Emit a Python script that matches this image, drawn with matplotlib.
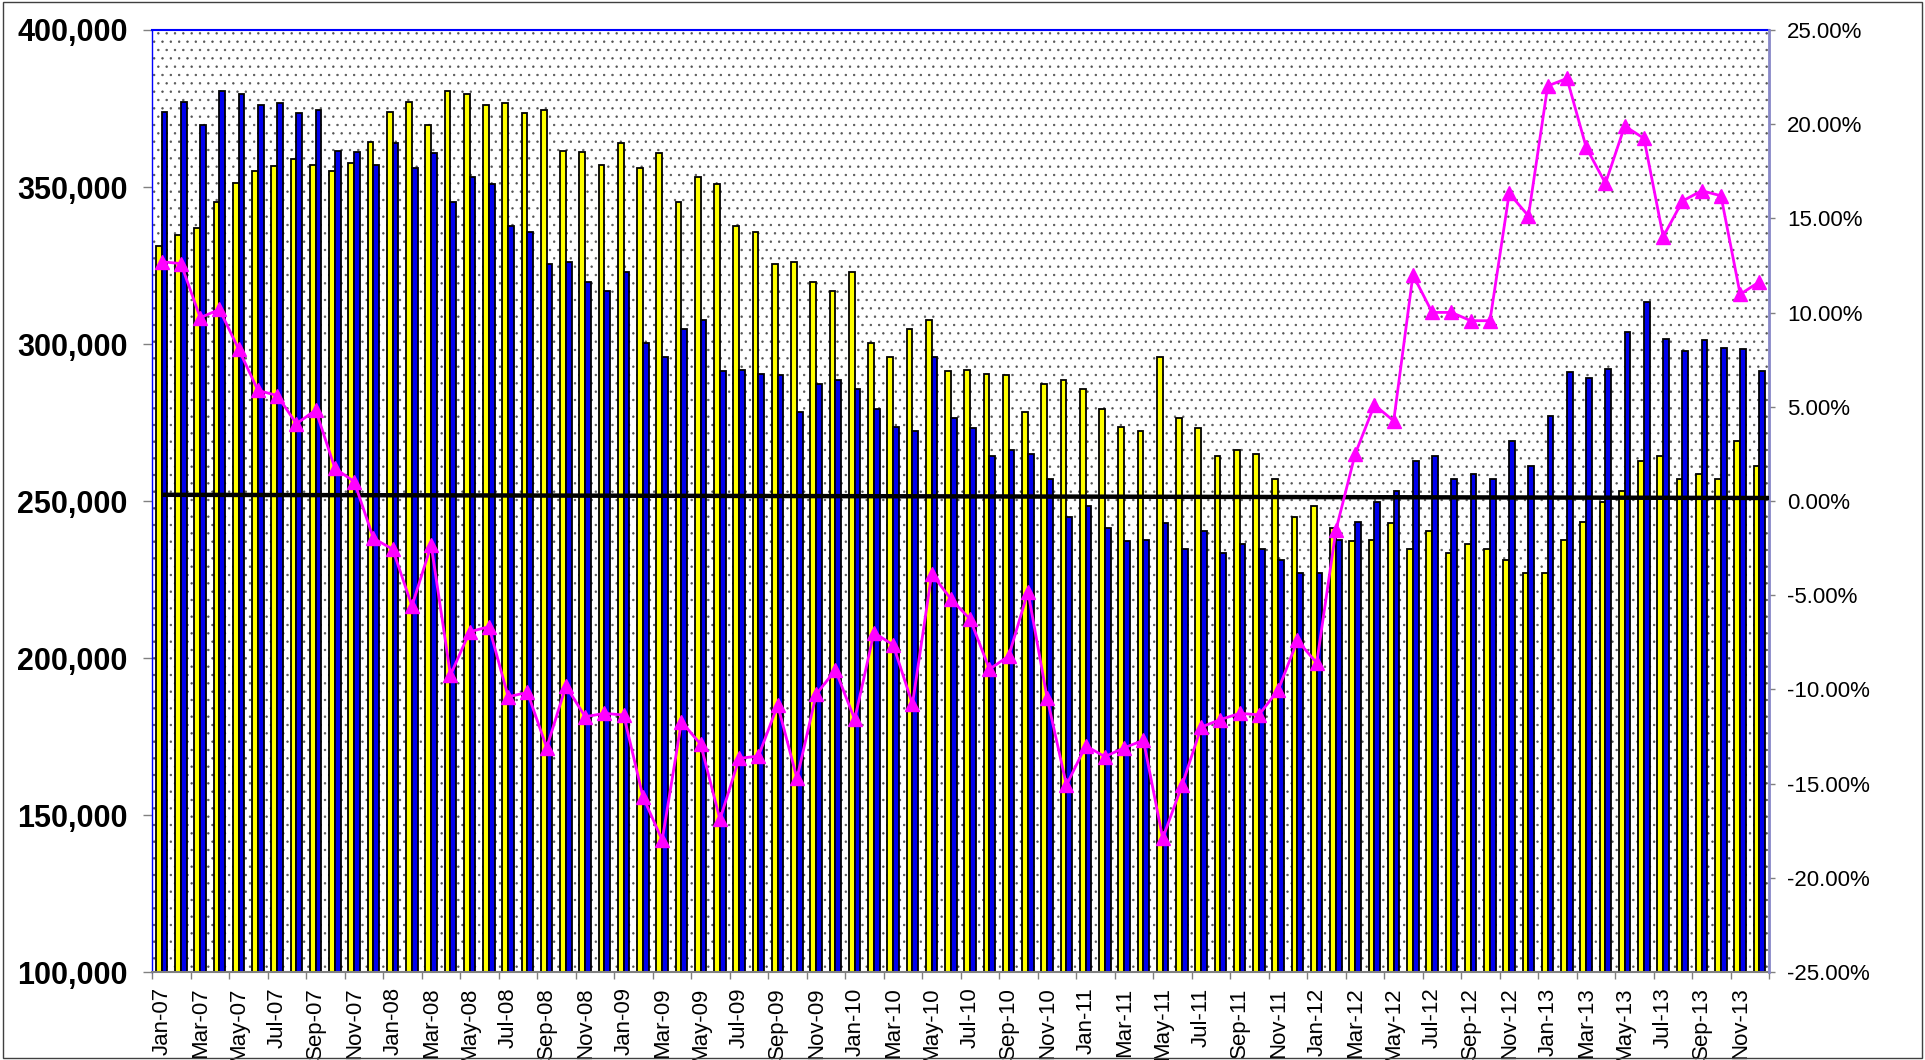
import matplotlib
matplotlib.use("Agg")
import matplotlib.pyplot as plt
import numpy as np
from matplotlib.patches import Rectangle
from matplotlib.ticker import FuncFormatter

plt.rcParams['font.family'] = ['Liberation Sans', 'DejaVu Sans']
plt.rcParams['hatch.linewidth'] = 0.5

# ---------------- data ----------------
month_names = ["Jan", "Feb", "Mar", "Apr", "May", "Jun",
               "Jul", "Aug", "Sep", "Oct", "Nov", "Dec"]
years = ["07", "08", "09", "10", "11", "12", "13"]
months = [f"{m}-{y}" for y in years for m in month_names]

# prior-year values for 2007 months (i.e. 2006)
prior_2006 = [331300, 334700, 337000, 345200, 351400, 355100,
              356800, 358900, 356900, 355100, 357500, 364200]

# current-month values Jan-07 .. Dec-13
current = [
    373800, 377200, 369700, 380600, 379700, 376000, 376900, 373600, 374400, 361500, 361100, 357100,
    364100, 356100, 360800, 345300, 353300, 350900, 337700, 335800, 325500, 326200, 319800, 317000,
    322800, 300200, 296000, 304900, 307600, 291500, 291600, 290400, 290100, 278300, 287200, 288600,
    285600, 279400, 273500, 272200, 295800, 276500, 273300, 264300, 266300, 264900, 257000, 245000,
    248400, 241300, 237400, 237600, 242900, 234600, 240400, 233500, 236200, 234700, 231200, 227000,
    227200, 237600, 243400, 249800, 253300, 262800, 264400, 257000, 258600, 257100, 269100, 261100,
    277100, 291100, 289300, 291900, 303700, 313400, 301500, 297900, 301400, 298800, 298500, 291400,
]

# same month of the previous year
prior = prior_2006 + current[:-12]

# year-over-year change in percent (right axis)
yoy_pct = [
    12.70, 12.60, 9.73, 10.17, 8.05, 5.87, 5.60, 4.10, 4.83, 1.73, 1.03, -1.98,
    -2.56, -5.57, -2.34, -9.24, -6.94, -6.67, -10.39, -10.16, -13.09, -9.82, -11.45, -11.27,
    -11.36, -15.70, -18.00, -11.71, -12.92, -16.90, -13.66, -13.54, -10.83, -14.72, -10.26, -8.97,
    -11.59, -6.99, -7.64, -10.78, -3.86, -5.21, -6.28, -8.93, -8.23, -4.81, -10.47, -15.08,
    -13.00, -13.57, -13.10, -12.70, -17.90, -15.10, -12.00, -11.60, -11.27, -11.35, -10.03, -7.40,
    -8.60, -1.54, 2.50, 5.10, 4.25, 12.00, 10.01, 10.01, 9.57, 9.57, 16.33, 15.13,
    22.03, 22.43, 18.77, 16.86, 19.90, 19.25, 14.03, 15.92, 16.47, 16.20, 10.97, 11.64,
]

# straight trend/reference line (right axis), start and end values
trend_pct = [0.33, 0.16]

left_ticks = [100000, 150000, 200000, 250000, 300000, 350000, 400000]
right_ticks = [-25, -20, -15, -10, -5, 0, 5, 10, 15, 20, 25]

# ---------------- figure ----------------
fig = plt.figure(figsize=(19.25, 10.6), dpi=100)
ax = fig.add_axes([0.079, 0.083, 0.8400, 0.8887])
ax.set_facecolor('white')

# dotted background
bg = Rectangle((0, 0), 1, 1, transform=ax.transAxes, facecolor='white',
               edgecolor='#555555', linewidth=0, hatch='..', zorder=0)
ax.add_patch(bg)

x = np.arange(len(months))
ax.bar(x - 0.15, prior, width=0.3, color='#FFFF00', edgecolor='black',
       linewidth=1.3, zorder=2)
ax.bar(x + 0.15, current, width=0.3, color='#0000EE', edgecolor='black',
       linewidth=1.3, zorder=2)

ax.set_xlim(-0.5, len(months) - 0.5)
ax.set_ylim(left_ticks[0], left_ticks[-1])
ax.set_yticks(left_ticks)
ax.yaxis.set_major_formatter(FuncFormatter(lambda v, p: f"{int(v):,}"))
for lab in ax.get_yticklabels():
    lab.set_fontweight('bold')
ax.tick_params(axis='y', which='major', labelsize=22, length=6.5, width=1,
               color='#808080', direction='out', pad=11)

# x ticks: marks at category boundaries, labels every other month
ax.set_xticks(np.arange(-0.5, len(months), 2))
ax.set_xticklabels([])
ax.set_xticks(x[::2], minor=True)
ax.set_xticklabels([months[i] for i in x[::2]], minor=True, rotation=90,
                   fontsize=16)
ax.tick_params(axis='x', which='major', length=5, width=1, color='#808080',
               direction='out')
ax.tick_params(axis='x', which='minor', length=0, pad=11)

# spines
ax.spines['top'].set_color('#0000FF')
ax.spines['top'].set_linewidth(1.5)
ax.spines['left'].set_color('#0000FF')
ax.spines['left'].set_linewidth(1.0)
ax.spines['bottom'].set_color('#808080')
ax.spines['bottom'].set_linewidth(1.5)
ax.spines['right'].set_visible(False)

# secondary axis
ax2 = ax.twinx()
ax2.plot(x, yoy_pct, color='#FF00FF', linewidth=2, marker='^',
         markersize=10, zorder=4)
ax2.plot([x[0], len(months) - 0.5], trend_pct, color='black', linewidth=3.2,
         zorder=3, solid_capstyle='butt')
ax2.set_ylim(right_ticks[0], right_ticks[-1])
ax2.set_yticks(right_ticks)
ax2.yaxis.set_major_formatter(FuncFormatter(lambda v, p: f"{v:.2f}%"))
ax2.tick_params(axis='y', labelsize=16, length=4, width=1, color='#808080',
                direction='out', pad=9)
for s in ['top', 'left', 'bottom']:
    ax2.spines[s].set_visible(False)
ax2.spines['right'].set_color('#8888C8')
ax2.spines['right'].set_linewidth(2)

# figure frame
fig.patches.append(Rectangle((0.0015, 0.002), 0.997, 0.996,
                             transform=fig.transFigure, fill=False,
                             edgecolor='#404040', linewidth=1))

fig.savefig('out.png', dpi=100)
